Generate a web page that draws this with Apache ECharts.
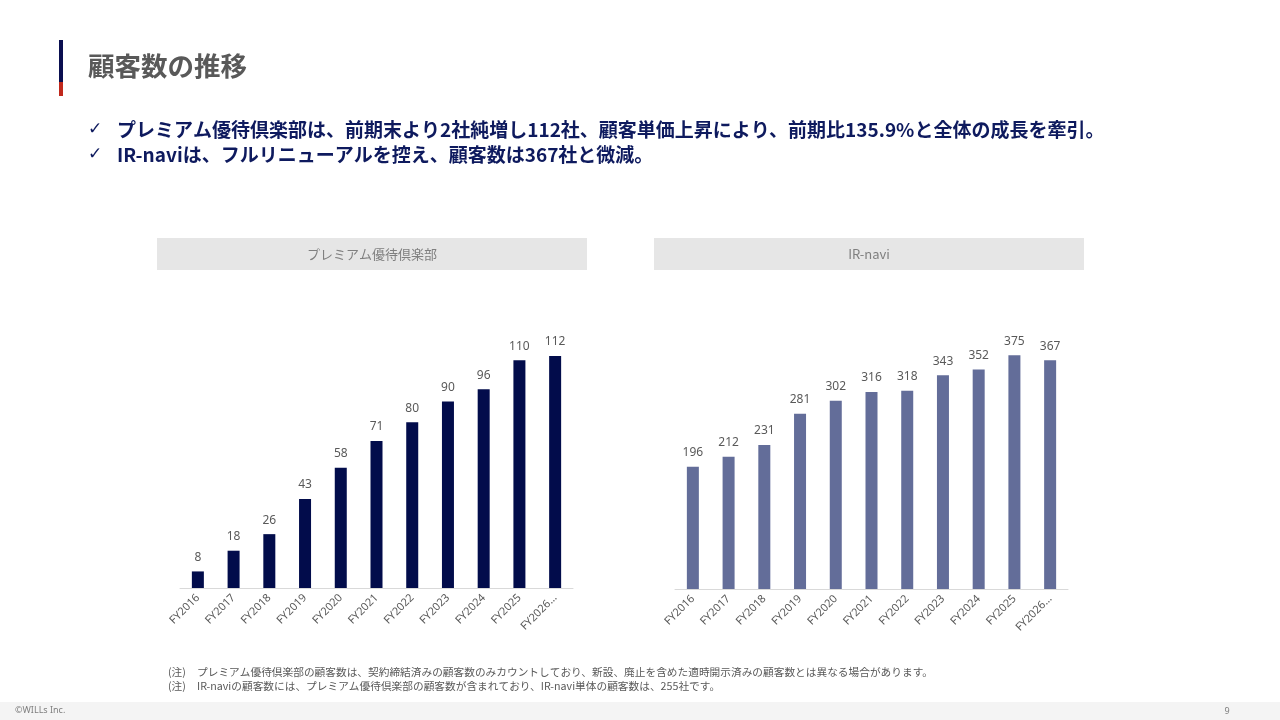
<!DOCTYPE html>
<html><head><meta charset="utf-8">
<script src="https://cdn.jsdelivr.net/npm/echarts@6/dist/echarts.min.js"></script>
<style>html,body{margin:0;padding:0;background:#fff}#c{width:1280px;height:720px}</style>
</head><body><div id="c"></div>
<script>
const categories = ['FY2016','FY2017','FY2018','FY2019','FY2020','FY2021','FY2022','FY2023','FY2024','FY2025','FY2026…'];
const premiumValues = [8, 18, 26, 43, 58, 71, 80, 90, 96, 110, 112];
const irnaviValues = [196, 212, 231, 281, 302, 316, 318, 343, 352, 375, 367];
const pageTitle = '顧客数の推移';
const bullets = [
  'プレミアム優待倶楽部は、前期末より2社純増し112社、顧客単価上昇により、前期比135.9%と全体の成長を牽引。',
  'IR-naviは、フルリニューアルを控え、顧客数は367社と微減。'
];
const panelTitles = ['プレミアム優待倶楽部', 'IR-navi'];
const notes = [
  'プレミアム優待倶楽部の顧客数は、契約締結済みの顧客数のみカウントしており、新設、廃止を含めた適時開示済みの顧客数とは異なる場合があります。',
  'IR-naviの顧客数には、プレミアム優待倶楽部の顧客数が含まれており、IR-navi単体の顧客数は、255社です。'
];

const JP = '"Noto Sans CJK JP", "Noto Sans", sans-serif';
const chart = echarts.init(document.getElementById('c'));

const axisCommon = {
  type: 'category', data: categories,
  axisLine: {lineStyle: {color: '#D9D9D9', width: 1}},
  axisTick: {show: false},
  axisLabel: {rotate: 45, color: '#595959', fontSize: 11, fontFamily: '"Noto Sans", sans-serif', margin: 8, interval: 0}
};
const labelCommon = {show: true, position: 'top', distance: 8, color: '#595959', fontSize: 12, fontFamily: '"Noto Sans", sans-serif'};

chart.setOption({
  animation: false,
  grid: [
    {left: 180, top: 298, width: 393, height: 290},
    {left: 675, top: 308.5, width: 393, height: 280.5}
  ],
  xAxis: [
    Object.assign({gridIndex: 0}, axisCommon),
    Object.assign({gridIndex: 1}, axisCommon)
  ],
  yAxis: [
    {gridIndex: 0, type: 'value', min: 0, max: 140, show: false},
    {gridIndex: 1, type: 'value', min: 0, max: 450, show: false}
  ],
  series: [
    {type: 'bar', xAxisIndex: 0, yAxisIndex: 0, data: premiumValues, barWidth: 12,
     itemStyle: {color: '#020C4B'}, label: labelCommon},
    {type: 'bar', xAxisIndex: 1, yAxisIndex: 1, data: irnaviValues, barWidth: 12,
     itemStyle: {color: '#636D99'}, label: labelCommon}
  ],
  graphic: [
    {type: 'rect', shape: {x: 59, y: 40, width: 4, height: 42}, style: {fill: '#0A0F50'}},
    {type: 'rect', shape: {x: 59, y: 82, width: 4, height: 14}, style: {fill: '#C0281C'}},
    {type: 'text', x: 88, y: 66, style: {text: pageTitle, fill: '#595959', font: 'bold 26.5px ' + JP, textVerticalAlign: 'middle'}},
    {type: 'text', x: 88, y: 130, style: {text: '✓', fill: '#0E1A5E', font: '17px "DejaVu Sans", sans-serif', textVerticalAlign: 'middle'}},
    {type: 'text', x: 88, y: 155, style: {text: '✓', fill: '#0E1A5E', font: '17px "DejaVu Sans", sans-serif', textVerticalAlign: 'middle'}},
    {type: 'text', x: 117, y: 130, style: {text: bullets[0], fill: '#0E1A5E', font: 'bold 19px ' + JP, textVerticalAlign: 'middle'}},
    {type: 'text', x: 117, y: 155, style: {text: bullets[1], fill: '#0E1A5E', font: 'bold 19px ' + JP, textVerticalAlign: 'middle'}},
    {type: 'rect', shape: {x: 157, y: 238, width: 430, height: 32}, style: {fill: '#E6E6E6'}},
    {type: 'rect', shape: {x: 654, y: 238, width: 430, height: 32}, style: {fill: '#E6E6E6'}},
    {type: 'text', x: 372, y: 254, style: {text: panelTitles[0], fill: '#7F7F7F', font: '13px ' + JP, textAlign: 'center', textVerticalAlign: 'middle'}},
    {type: 'text', x: 869, y: 254, style: {text: panelTitles[1], fill: '#7F7F7F', font: '13px ' + JP, textAlign: 'center', textVerticalAlign: 'middle'}},
    {type: 'text', x: 168, y: 672, style: {text: '(注)', fill: '#595959', font: '10.7px ' + JP, textVerticalAlign: 'middle'}},
    {type: 'text', x: 197, y: 672, style: {text: notes[0], fill: '#595959', font: '10.7px ' + JP, textVerticalAlign: 'middle'}},
    {type: 'text', x: 168, y: 686, style: {text: '(注)', fill: '#595959', font: '10.7px ' + JP, textVerticalAlign: 'middle'}},
    {type: 'text', x: 197, y: 686, style: {text: notes[1], fill: '#595959', font: '10.7px ' + JP, textVerticalAlign: 'middle'}},
    {type: 'rect', shape: {x: 0, y: 702, width: 1280, height: 18}, style: {fill: '#F4F4F4'}},
    {type: 'text', x: 15, y: 710, style: {text: '©WILLs Inc.', fill: '#7F7F7F', font: '9px "Noto Sans", sans-serif', textVerticalAlign: 'middle'}},
    {type: 'text', x: 1227, y: 711, style: {text: '9', fill: '#7F7F7F', font: '9px "Noto Sans", sans-serif', textAlign: 'center', textVerticalAlign: 'middle'}}
  ]
});
</script></body></html>
